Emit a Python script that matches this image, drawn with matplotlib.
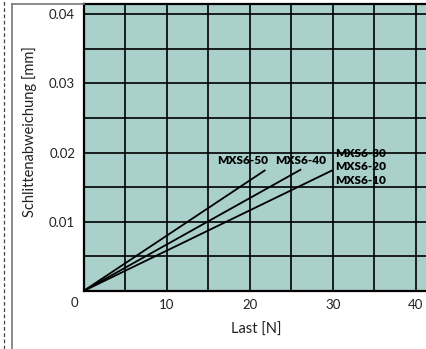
import matplotlib
matplotlib.use("Agg")
import matplotlib.pyplot as plt
from matplotlib.lines import Line2D

plt.rcParams['font.family'] = ['Lato', 'DejaVu Sans']

# Daten
last_50 = [0, 21.8]
abw_50 = [0, 0.0174]
last_40 = [0, 26.1]
abw_40 = [0, 0.0175]
last_10 = [0, 29.9]
abw_10 = [0, 0.0174]

xticks = [10, 20, 30, 40]
yticks = [0.01, 0.02, 0.03, 0.04]
ytick_labels = ["0.01", "0.02", "0.03", "0.04"]

W, H = 426, 349
fig = plt.figure(figsize=(W / 100, H / 100), dpi=100)
fig.patch.set_facecolor("white")

# Rahmenlinien der Seite
fig.add_artist(Line2D([3.5 / W, 3.5 / W], [0, 1], color="#444444", lw=0.9,
                      linestyle=(0, (3, 2))))
fig.add_artist(Line2D([11.5 / W, 11.5 / W], [0, 1 - 3.5 / H], color="#777777", lw=1.2))
fig.add_artist(Line2D([11.5 / W, 84 / W], [1 - 3.5 / H, 1 - 3.5 / H], color="#777777", lw=1.2))

ax = fig.add_axes([83.5 / W, 1 - 291 / H, (W - 83.5) / W, (291 - 4) / H])
ax.set_facecolor("#a9d0ca")
ax.set_xlim(0, (W - 83.5) / 8.31)
ax.set_ylim(0, (291 - 4) / 6925)

# Gitter alle 5 N / 0.005 mm
for gx in range(5, 45, 5):
    ax.axvline(gx, color="black", lw=1.2, zorder=1)
for gy in [0.005, 0.01, 0.015, 0.02, 0.025, 0.03, 0.035, 0.04]:
    ax.axhline(gy, color="black", lw=1.2, zorder=1)

ax.plot(last_50, abw_50, color="black", lw=1.3, zorder=2)
ax.plot(last_40, abw_40, color="black", lw=1.3, zorder=2)
ax.plot(last_10, abw_10, color="black", lw=1.3, zorder=2)

lab = dict(fontsize=8.5, fontweight="heavy", color="black", zorder=3)
ax.text(16.1, 0.0183, "MXS6-50", **lab)
ax.text(23.1, 0.0183, "MXS6-40", **lab)
ax.text(30.3, 0.0194, "MXS6-30", **lab)
ax.text(30.3, 0.0175, "MXS6-20", **lab)
ax.text(30.3, 0.0155, "MXS6-10", **lab)

for s in ["left", "bottom", "top"]:
    ax.spines[s].set_linewidth(1.6)
    ax.spines[s].set_color("black")
ax.spines["right"].set_visible(False)

ax.set_xticks(xticks)
ax.set_xticklabels([str(t) for t in xticks])
ax.set_yticks(yticks)
ax.set_yticklabels(ytick_labels)
ax.tick_params(length=0, labelsize=9.5, pad=6, colors="#222222")
ax.tick_params(axis="y", pad=6)
ax.text(-1.05, -0.0018, "0", fontsize=9.5, color="#222222", ha="center", va="center",
        clip_on=False)

ax.set_xlabel("Last [N]", fontsize=10.5, color="#222222")
ax.set_ylabel("Schlittenabweichung [mm]", fontsize=10.5, color="#222222")
ax.xaxis.set_label_coords((256 - 83.5) / (W - 83.5), -(323 - 291) / (291 - 4))
ax.xaxis.label.set_va("top")
ax.yaxis.set_label_coords(-(83.5 - 30) / (W - 83.5), (291 - 132) / (291 - 4))
ax.yaxis.label.set_va("center")
ax.yaxis.label.set_ha("center")

fig.savefig("out.png", dpi=100)
